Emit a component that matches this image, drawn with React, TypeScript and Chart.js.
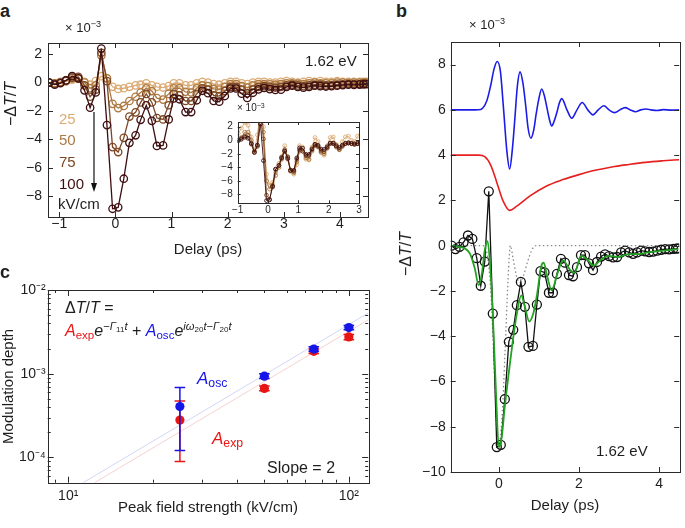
import React, { useEffect, useRef } from 'react';
import { Chart, registerables } from 'chart.js';

Chart.register(...registerables);

const FONT = '"Liberation Sans", Arial, Helvetica, sans-serif';
const INK = '#1e1e1e';

/* ---------------- panel a : delay traces for 4 field strengths ---------------- */
const tDelay = [-1.18, -1.08, -0.98, -0.88, -0.77, -0.66, -0.55, -0.45, -0.35, -0.25, -0.15, -0.05, 0.05, 0.15, 0.25, 0.36, 0.45, 0.55, 0.65, 0.74, 0.85, 0.95, 1.04, 1.14, 1.25, 1.35, 1.45, 1.55, 1.65, 1.75, 1.85, 1.95, 2.05, 2.15, 2.25, 2.35, 2.45, 2.55, 2.65, 2.75, 2.85, 2.95, 3.05, 3.15, 3.25, 3.35, 3.45, 3.55, 3.65, 3.75, 3.85, 3.95, 4.05, 4.15, 4.25, 4.35, 4.42, 4.47];
const dT100 = [0.0, -0.15, -0.05, 0.15, 0.45, 0.3, -0.55, -1.77, -0.7, 2.4, -3.0, -8.9, -8.8, -6.78, -4.25, -3.72, -2.63, -1.6, -2.7, -4.47, -4.43, -2.6, -1.12, -1.18, -2.08, -2.08, -1.25, -0.58, -0.75, -1.3, -1.35, -0.95, -0.42, -0.42, -0.78, -1.08, -0.72, -0.48, -0.38, -0.46, -0.52, -0.5, -0.3, -0.22, -0.3, -0.36, -0.3, -0.22, -0.25, -0.28, -0.26, -0.22, -0.18, -0.15, -0.16, -0.14, -0.13, -0.12];
const dT75 = [0.0, -0.1, 0.0, 0.15, 0.35, 0.4, -0.2, -1.0, -0.5, 2.1, 0.1, -4.55, -4.9, -3.9, -2.4, -2.1, -1.4, -0.8, -1.4, -2.5, -2.6, -1.6, -0.8, -0.9, -1.3, -1.3, -0.8, -0.4, -0.5, -0.9, -0.95, -0.6, -0.3, -0.3, -0.5, -0.75, -0.5, -0.3, -0.25, -0.3, -0.35, -0.3, -0.2, -0.15, -0.2, -0.25, -0.2, -0.15, -0.15, -0.2, -0.18, -0.15, -0.12, -0.1, -0.1, -0.1, -0.08, -0.08];
const dT50 = [0.0, -0.05, 0.0, 0.1, 0.3, 0.3, 0.0, -0.4, -0.2, 1.9, 0.3, -1.5, -1.8, -1.65, -1.3, -1.0, -0.7, -0.4, -0.6, -1.1, -1.2, -0.8, -0.4, -0.4, -0.65, -0.7, -0.4, -0.2, -0.25, -0.45, -0.5, -0.3, -0.1, -0.1, -0.25, -0.35, -0.2, -0.1, -0.1, -0.12, -0.15, -0.1, -0.05, -0.05, -0.08, -0.1, -0.05, 0.0, -0.05, -0.05, -0.05, 0.0, 0.0, -0.02, 0.0, 0.0, 0.0, 0.0];
const dT25 = [0.0, -0.05, 0.05, 0.1, 0.2, 0.25, 0.05, -0.15, 0.1, 0.45, 0.3, -0.3, -0.45, -0.4, -0.3, -0.2, -0.15, -0.05, -0.2, -0.3, -0.35, -0.25, -0.05, -0.05, -0.2, -0.2, -0.05, 0.05, 0.0, -0.1, -0.15, -0.05, 0.05, 0.05, -0.05, -0.1, 0.0, 0.05, 0.05, 0.0, 0.0, 0.05, 0.1, 0.05, 0.0, 0.05, 0.1, 0.05, 0.1, 0.05, 0.05, 0.1, 0.05, 0.05, 0.05, 0.05, 0.05, 0.05];
const fieldNames = ['25', '50', '75', '100'];
const fieldColors = ['#dcab75', '#ad7943', '#7b4724', '#3e0e10'];

/* inset : traces normalised to 100 kV/cm */
const nT25 = [0.2, 0.6, 1.0, 1.8, 2.6, 2.2, 0.5, -1.6, 0.8, 3.0, 2.0, -5.0, -6.6, -6.2, -4.8, -3.4, -2.4, -0.8, -2.8, -4.6, -5.0, -3.6, -0.8, -1.0, -2.8, -2.9, -1.0, 0.4, -0.2, -1.6, -2.2, -0.8, 0.4, 0.5, -0.6, -1.4, -0.2, 0.5, 0.6, 0.0, -0.2, 0.6, 0.8, 0.4, -0.2, 0.4, 0.8, 0.5, 0.9, 0.4, 0.5, 0.8, 0.4, 0.4, 0.6, 0.4, 0.5, 0.4];
const nT50 = [0.0, -0.2, 0.0, 0.4, 1.2, 1.2, 0.0, -1.6, -0.8, 7.6, 1.2, -6.0, -7.2, -6.6, -5.2, -4.0, -2.8, -1.6, -2.4, -4.4, -4.8, -3.2, -1.6, -1.6, -2.6, -2.8, -1.6, -0.8, -1.0, -1.8, -2.0, -1.2, -0.4, -0.4, -1.0, -1.4, -0.8, -0.4, -0.4, -0.5, -0.6, -0.4, -0.2, -0.2, -0.3, -0.4, -0.2, 0.0, -0.2, -0.2, -0.2, 0.0, 0.0, -0.1, 0.0, 0.0, 0.0, 0.0];
const nT75 = [0.0, -0.2, 0.0, 0.3, 0.6, 0.7, -0.4, -1.8, -0.9, 3.7, 0.2, -8.1, -8.7, -6.9, -4.3, -3.7, -2.5, -1.4, -2.5, -4.4, -4.6, -2.8, -1.4, -1.6, -2.3, -2.3, -1.4, -0.7, -0.9, -1.6, -1.7, -1.1, -0.5, -0.5, -0.9, -1.3, -0.9, -0.5, -0.4, -0.5, -0.6, -0.5, -0.4, -0.3, -0.4, -0.4, -0.4, -0.3, -0.3, -0.4, -0.3, -0.3, -0.2, -0.2, -0.2, -0.2, -0.1, -0.1];

/* ---------------- panel b : fit decomposition ---------------- */
const oscT = [-1.2, -0.6, -0.45, -0.3, -0.2, -0.12, -0.04, 0.04, 0.12, 0.2, 0.27, 0.34, 0.4, 0.46, 0.53, 0.6, 0.67, 0.73, 0.8, 0.87, 0.93, 1.0, 1.07, 1.14, 1.2, 1.26, 1.32, 1.38, 1.45, 1.51, 1.57, 1.7, 1.82, 1.95, 2.08, 2.22, 2.35, 2.48, 2.62, 2.75, 2.89, 3.02, 3.15, 3.28, 3.41, 3.54, 3.67, 3.8, 3.95, 4.1, 4.3, 4.5];
const oscV = [6.0, 6.0, 6.02, 6.4, 7.1, 7.8, 8.14, 7.7, 6.0, 4.2, 3.39, 4.3, 5.6, 7.0, 7.68, 7.2, 6.2, 5.2, 4.75, 5.1, 5.8, 6.5, 6.92, 6.6, 6.1, 5.6, 5.29, 5.5, 5.9, 6.3, 6.5, 6.0, 5.63, 6.0, 6.33, 6.0, 5.78, 6.0, 6.18, 6.0, 5.88, 6.0, 6.1, 6.0, 5.92, 6.0, 6.04, 6.0, 5.97, 6.01, 5.99, 6.0];
const expT = [-1.2, -0.5, -0.35, -0.2, -0.06, 0.1, 0.27, 0.45, 0.77, 1.18, 1.6, 2.0, 2.4, 2.82, 3.25, 3.65, 4.1, 4.5];
const expV = [4.0, 4.0, 3.93, 3.55, 2.85, 2.0, 1.56, 1.75, 2.19, 2.63, 2.92, 3.14, 3.33, 3.48, 3.59, 3.68, 3.75, 3.8];
const fitT = [-1.2, -1.0, -0.85, -0.72, -0.6, -0.5, -0.42, -0.35, -0.28, -0.22, -0.15, -0.07, 0.0, 0.07, 0.15, 0.25, 0.35, 0.45, 0.56, 0.65, 0.76, 0.86, 0.95, 1.06, 1.12, 1.2, 1.32, 1.45, 1.6, 1.77, 1.89, 2.05, 2.2, 2.37, 2.53, 2.74, 2.99, 3.23, 3.48, 3.73, 3.98, 4.22, 4.47];
const fitV = [0.0, -0.05, -0.12, -0.35, -1.0, -1.75, -1.2, -0.2, 0.2, -0.8, -3.0, -6.5, -8.9, -8.5, -7.1, -5.6, -4.2, -3.0, -2.2, -2.7, -3.35, -3.0, -2.2, -0.9, -0.75, -1.3, -1.97, -1.3, -0.65, -1.05, -1.2, -0.45, -0.6, -0.88, -0.65, -0.45, -0.5, -0.37, -0.37, -0.3, -0.24, -0.2, -0.15];
const pulseT = [-1.2, -0.4, -0.3, -0.2, -0.1, -0.02, 0.08, 0.16, 0.23, 0.29, 0.36, 0.45, 0.53, 0.62, 0.72, 0.82, 0.93, 4.5];
const pulseV = [0.0, 0.0, -0.3, -2.0, -6.0, -8.9, -7.6, -4.5, -1.5, 0.0, -0.6, -1.4, -1.62, -1.3, -0.7, -0.2, 0.0, 0.0];

/* ---------------- panel c : amplitudes vs field ---------------- */
const fieldKV = [25, 50, 75, 100];
const aOsc = [4.05e-4, 9.35e-4, 1.97e-3, 3.56e-3];
const aOscLo = [1.21e-4, 8.8e-4, 1.85e-3, 3.36e-3];
const aOscHi = [6.85e-4, 1.0e-3, 2.1e-3, 3.78e-3];
const aExp = [2.8e-4, 6.67e-4, 1.85e-3, 2.75e-3];
const aExpLo = [8.95e-5, 6.25e-4, 1.74e-3, 2.55e-3];
const aExpHi = [4.74e-4, 7.15e-4, 1.97e-3, 2.95e-3];
const slopeOscX = [11.3, 117.2];
const slopeOscY = [5e-5, 5.3e-3];
const slopeExpX = [12.4, 117.2];
const slopeExpY = [5e-5, 4.4e-3];

/* ---------------- ticks ---------------- */
const aXTicks = [-1, 0, 1, 2, 3, 4];
const aYTicks = [-8, -6, -4, -2, 0, 2];
const insXTicks = [-1, 0, 1, 2, 3];
const insYTicks = [-8, -6, -4, -2, 0, 2];
const bXTicks = [0, 2, 4];
const bYTicks = [-10, -8, -6, -4, -2, 0, 2, 4, 6, 8];
const cXTicks = [9, 10, 20, 30, 40, 50, 60, 70, 80, 90, 100];
const cXMajor = [10, 100];
const cXLabels = ['10¹', '10²'];
const cYTicks = [6e-5, 7e-5, 8e-5, 9e-5, 1e-4, 2e-4, 3e-4, 4e-4, 5e-4, 6e-4, 7e-4, 8e-4, 9e-4, 1e-3, 2e-3, 3e-3, 4e-3, 5e-3, 6e-3, 7e-3, 8e-3, 9e-3, 1e-2];
const cYMajor = [1e-4, 1e-3, 1e-2];
const cYLabels = ['10⁻⁴', '10⁻³', '10⁻²'];

/* ---------------- helpers ---------------- */
const fmt = (v: number) => (v < 0 ? '\u2212' + Math.abs(v) : String(v));
const pts = (xs: number[], ys: (number | null)[]) => xs.map((x, i) => ({ x, y: ys[i] }));
const errPts = (xs: number[], lo: number[], hi: number[]) =>
  xs.flatMap((x, i) => [{ x, y: lo[i] }, { x, y: hi[i] }, { x, y: null }]);

function axis(o: any) {
  return {
    type: o.type || 'linear',
    min: o.min,
    max: o.max,
    bounds: 'data',
    afterBuildTicks: (s: any) => {
      s.ticks = o.ticks.map((v: number) => ({ value: v }));
    },
    afterFit: (s: any) => {
      if (s.isHorizontal()) s.height = o.size;
      else s.width = o.size;
    },
    grid: { display: false, drawTicks: false },
    border: { display: false },
    ticks: {
      autoSkip: false,
      maxRotation: 0,
      minRotation: 0,
      padding: o.pad,
      color: INK,
      font: { family: FONT, size: o.fs, lineHeight: 1 },
      callback: (v: number) => (o.label ? o.label(v) : fmt(v)),
    },
    title: o.title || { display: false },
  };
}

function boxTicks(o: { len: number; minor?: number; xMajor?: number[]; yMajor?: number[]; fill?: boolean }) {
  return {
    id: 'boxTicks',
    beforeDraw(chart: any) {
      if (!o.fill) return;
      const a = chart.chartArea;
      const ctx = chart.ctx;
      ctx.save();
      ctx.fillStyle = '#fff';
      ctx.fillRect(a.left, a.top, a.right - a.left, a.bottom - a.top);
      ctx.restore();
    },
    afterDraw(chart: any) {
      const { ctx, chartArea: a, scales } = chart;
      const xs = scales.x;
      const ys = scales.y;
      const minor = o.minor ?? o.len / 2;
      ctx.save();
      ctx.strokeStyle = '#2a2a2a';
      ctx.lineWidth = 1;
      ctx.beginPath();
      for (const t of xs.ticks) {
        const p = Math.round(xs.getPixelForValue(t.value)) + 0.5;
        const L = !o.xMajor || o.xMajor.includes(t.value) ? o.len : minor;
        ctx.moveTo(p, a.bottom);
        ctx.lineTo(p, a.bottom - L);
        ctx.moveTo(p, a.top);
        ctx.lineTo(p, a.top + L);
      }
      for (const t of ys.ticks) {
        const p = Math.round(ys.getPixelForValue(t.value)) + 0.5;
        const L = !o.yMajor || o.yMajor.includes(t.value) ? o.len : minor;
        ctx.moveTo(a.left, p);
        ctx.lineTo(a.left + L, p);
        ctx.moveTo(a.right, p);
        ctx.lineTo(a.right - L, p);
      }
      ctx.stroke();
      ctx.strokeRect(Math.round(a.left) + 0.5, Math.round(a.top) + 0.5, Math.round(a.right - a.left), Math.round(a.bottom - a.top));
      ctx.restore();
    },
  };
}

function baseOptions(padding: any, scales: any) {
  return {
    responsive: false,
    animation: false,
    events: [],
    layout: { padding },
    plugins: { legend: { display: false }, tooltip: { enabled: false } },
    scales,
  };
}

const xTitle = (text: string, bottom: number) => ({
  display: true,
  text,
  color: INK,
  font: { family: FONT, size: 15, lineHeight: 1.2 },
  padding: { top: 0, bottom },
});

/* ---------------- chart configs ---------------- */
function makeA(): any {
  const series = [dT25, dT50, dT75, dT100];
  return {
    type: 'line',
    data: {
      datasets: [3, 2, 1, 0].map((i) => ({
        data: pts(tDelay, series[i]),
        borderColor: fieldColors[i],
        borderWidth: 1.3,
        pointRadius: 3.7,
        pointBorderWidth: 1.3,
        pointBorderColor: fieldColors[i],
        pointBackgroundColor: 'rgba(255,255,255,0)',
        tension: 0,
      })),
    },
    options: baseOptions({ left: 0, top: 11, right: 7, bottom: 0 }, {
      x: axis({ min: -1.2, max: 4.5, ticks: aXTicks, size: 48, pad: 0, fs: 14, title: xTitle('Delay (ps)', 6) }),
      y: axis({ min: -9.48, max: 2.79, ticks: aYTicks, size: 48, pad: 6, fs: 14 }),
    }),
    plugins: [boxTicks({ len: 5 })],
  };
}

function makeInset(): any {
  const series = [nT25, nT50, nT75, dT100];
  return {
    type: 'line',
    data: {
      datasets: [3, 2, 1, 0].map((i) => ({
        data: pts(tDelay, series[i]),
        borderColor: fieldColors[i],
        borderWidth: 0.9,
        pointRadius: 1.9,
        pointBorderWidth: 0.9,
        pointBorderColor: fieldColors[i],
        pointBackgroundColor: 'rgba(255,255,255,0)',
        tension: 0,
      })),
    },
    options: baseOptions({ left: 0, top: 7, right: 6, bottom: 0 }, {
      x: axis({ min: -1, max: 3, ticks: insXTicks, size: 18.7, pad: 2, fs: 10 }),
      y: axis({ min: -9.3, max: 2.7, ticks: insYTicks, size: 32.7, pad: 5, fs: 10 }),
    }),
    plugins: [boxTicks({ len: 3, fill: true })],
  };
}

function makeB(): any {
  return {
    type: 'line',
    data: {
      datasets: [
        { data: pts(fitT, fitV), borderColor: '#23a323', borderWidth: 1.8, pointRadius: 0, cubicInterpolationMode: 'monotone' },
        {
          data: pts(tDelay, dT100),
          borderColor: '#111',
          borderWidth: 1.3,
          pointRadius: 4.5,
          pointBorderWidth: 1.3,
          pointBorderColor: '#111',
          pointBackgroundColor: 'rgba(255,255,255,0)',
          tension: 0,
        },
        { data: pts(pulseT, pulseV), borderColor: '#8a8a8a', borderWidth: 1.3, borderDash: [1.5, 2.5], pointRadius: 0, cubicInterpolationMode: 'monotone' },
        { data: pts(oscT, oscV), borderColor: '#1c1ce6', borderWidth: 1.6, pointRadius: 0, cubicInterpolationMode: 'monotone' },
        { data: pts(expT, expV), borderColor: '#e62020', borderWidth: 1.6, pointRadius: 0, cubicInterpolationMode: 'monotone' },
      ],
    },
    options: baseOptions({ left: 0, top: 11, right: 3.3, bottom: 0 }, {
      x: axis({ min: -1.2, max: 4.5, ticks: bXTicks, size: 48, pad: 5, fs: 14, title: xTitle('Delay (ps)', 5) }),
      y: axis({ min: -10, max: 9, ticks: bYTicks, size: 65.7, pad: 5, fs: 14 }),
    }),
    plugins: [boxTicks({ len: 5 })],
  };
}

function makeC(): any {
  const blue = '#1515e8';
  const red = '#e81515';
  return {
    type: 'line',
    data: {
      datasets: [
        { data: pts(fieldKV, aOsc), showLine: false, pointRadius: 4.6, pointBorderWidth: 0, pointBackgroundColor: blue },
        { data: errPts(fieldKV, aOscLo, aOscHi), borderColor: blue, borderWidth: 1.5, pointStyle: 'line', pointRadius: 5.3, pointBorderWidth: 1.5, pointBorderColor: blue, spanGaps: false },
        { data: pts(fieldKV, aExp), showLine: false, pointRadius: 4.6, pointBorderWidth: 0, pointBackgroundColor: red },
        { data: errPts(fieldKV, aExpLo, aExpHi), borderColor: red, borderWidth: 1.5, pointStyle: 'line', pointRadius: 5.3, pointBorderWidth: 1.5, pointBorderColor: red, spanGaps: false },
        { data: pts(slopeOscX, slopeOscY), borderColor: '#cdd0f4', borderWidth: 0.9, pointRadius: 0 },
        { data: pts(slopeExpX, slopeExpY), borderColor: '#f5cccc', borderWidth: 0.9, pointRadius: 0 },
      ],
    },
    options: baseOptions({ left: 0, top: 25, right: 6.7, bottom: 0 }, {
      x: axis({
        type: 'logarithmic', min: 8.45, max: 117.2, ticks: cXTicks, size: 45.3, pad: 6, fs: 14,
        label: (v: number) => { const i = cXMajor.indexOf(v); return i >= 0 ? cXLabels[i] : ''; },
        title: xTitle('Peak field strength (kV/cm)', 11),
      }),
      y: axis({
        type: 'logarithmic', min: 5e-5, max: 1e-2, ticks: cYTicks, size: 47.7, pad: 2, fs: 14,
        label: (v: number) => { const i = cYMajor.indexOf(v); return i >= 0 ? cYLabels[i] : ''; },
        title: { display: true, text: 'Modulation depth', color: INK, font: { family: FONT, size: 15, lineHeight: 1.2 }, padding: { top: 0, bottom: 0 } },
      }),
    }),
    plugins: [boxTicks({ len: 6, minor: 3, xMajor: cXMajor, yMajor: cYMajor })],
  };
}

/* ---------------- components ---------------- */
function ChartCanvas({ left, top, width, height, make }: any) {
  const ref = useRef<HTMLCanvasElement>(null);
  useEffect(() => {
    const chart = new Chart(ref.current as HTMLCanvasElement, make());
    return () => chart.destroy();
  }, []);
  return <canvas ref={ref} width={width} height={height} style={{ position: 'absolute', left, top, width, height }} />;
}

const Sup = ({ children }: any) => (
  <span style={{ fontSize: '0.7em', verticalAlign: '0.5em', lineHeight: 0 }}>{children}</span>
);
const Sub = ({ children }: any) => (
  <span style={{ fontSize: '0.72em', verticalAlign: '-0.28em', lineHeight: 0 }}>{children}</span>
);

const Txt = ({ left, top, size, color, bold, children, style }: any) => (
  <div
    style={{
      position: 'absolute', left, top, fontSize: size, lineHeight: 1, color: color || INK,
      fontWeight: bold ? 'bold' : 'normal', whiteSpace: 'nowrap', ...style,
    }}
  >
    {children}
  </div>
);

const VTxt = ({ cx, cy, size, children }: any) => (
  <div
    style={{
      position: 'absolute', left: cx, top: cy, fontSize: size, lineHeight: 1, color: INK, whiteSpace: 'nowrap',
      transform: 'translate(-50%, -50%) rotate(-90deg)',
    }}
  >
    {children}
  </div>
);

export default function App() {
  const legendTops = [111, 132, 154, 176];
  return (
    <div
      style={{
        position: 'absolute', left: 0, top: 0, width: 685, height: 528, background: '#fff',
        fontFamily: FONT, color: INK, overflow: 'hidden',
      }}
    >
      <ChartCanvas left={0} top={30} width={375} height={235} make={makeA} />
      <ChartCanvas left={205} top={112} width={160} height={110} make={makeInset} />
      <ChartCanvas left={385} top={30} width={300} height={490} make={makeB} />
      <ChartCanvas left={0} top={265} width={375} height={263} make={makeC} />

      {/* panel letters */}
      <Txt left={0} top={2} size={18} bold>a</Txt>
      <Txt left={396} top={2} size={18} bold>b</Txt>
      <Txt left={0} top={263} size={18} bold>c</Txt>

      {/* panel a annotations */}
      <Txt left={65} top={21} size={13}>× 10<Sup>−3</Sup></Txt>
      <Txt left={237} top={103} size={10}>× 10<Sup>−3</Sup></Txt>
      <Txt left={305} top={53} size={15}>1.62 eV</Txt>
      <VTxt cx={11} cy={104} size={16}>−Δ<i>T</i>/<i>T</i></VTxt>
      {fieldNames.map((n, i) => (
        <Txt key={n} left={59} top={legendTops[i]} size={15} color={fieldColors[i]}>{n}</Txt>
      ))}
      <Txt left={58} top={196} size={15}>kV/cm</Txt>
      <svg width={12} height={90} style={{ position: 'absolute', left: 88, top: 108 }}>
        <line x1={6} y1={4} x2={6} y2={78} stroke="#111" strokeWidth={1.2} />
        <polygon points="6,84 3,75 9,75" fill="#111" />
      </svg>

      {/* panel b annotations */}
      <Txt left={469} top={18} size={13}>× 10<Sup>−3</Sup></Txt>
      <Txt left={596} top={443} size={15}>1.62 eV</Txt>
      <VTxt cx={406} cy={254} size={16}>−Δ<i>T</i>/<i>T</i></VTxt>

      {/* panel c annotations */}
      <Txt left={65} top={300} size={16}>Δ<i>T</i>/<i>T</i> =</Txt>
      <Txt left={65} top={323} size={16}>
        <span style={{ color: '#e81515' }}><i>A</i><Sub>exp</Sub></span>
        <i>e</i>
        <Sup>−<i>Γ</i><Sub>11</Sub><i>t</i></Sup>
        {' + '}
        <span style={{ color: '#1515e8' }}><i>A</i><Sub>osc</Sub></span>
        <i>e</i>
        <Sup><i>iω</i><Sub>20</Sub><i>t</i>−<i>Γ</i><Sub>20</Sub><i>t</i></Sup>
      </Txt>
      <Txt left={197} top={370} size={17} color="#1515e8"><i>A</i><Sub>osc</Sub></Txt>
      <Txt left={212} top={430} size={17} color="#e81515"><i>A</i><Sub>exp</Sub></Txt>
      <Txt left={267} top={460} size={16}>Slope = 2</Txt>
    </div>
  );
}
